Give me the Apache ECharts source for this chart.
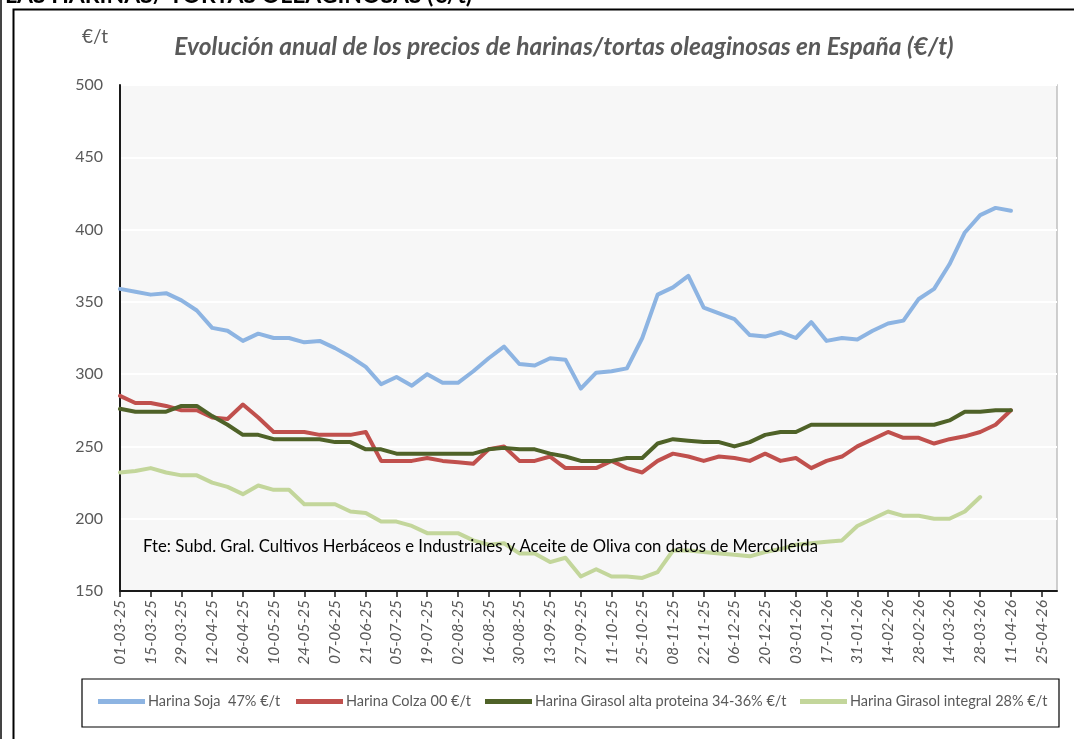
<!DOCTYPE html>
<html><head><meta charset="utf-8">
<script src="https://cdn.jsdelivr.net/npm/echarts@6/dist/echarts.min.js"></script>
<style>html,body{margin:0;padding:0;background:#fff}#c{width:1074px;height:739px}</style>
</head><body><div id="c"></div>
<script>
const categories = ["01-03-25","08-03-25","15-03-25","22-03-25","29-03-25","05-04-25","12-04-25","19-04-25","26-04-25","03-05-25","10-05-25","17-05-25","24-05-25","31-05-25","07-06-25","14-06-25","21-06-25","28-06-25","05-07-25","12-07-25","19-07-25","26-07-25","02-08-25","09-08-25","16-08-25","23-08-25","30-08-25","06-09-25","13-09-25","20-09-25","27-09-25","04-10-25","11-10-25","18-10-25","25-10-25","01-11-25","08-11-25","15-11-25","22-11-25","29-11-25","06-12-25","13-12-25","20-12-25","27-12-25","03-01-26","10-01-26","17-01-26","24-01-26","31-01-26","07-02-26","14-02-26","21-02-26","28-02-26","07-03-26","14-03-26","21-03-26","28-03-26","04-04-26","11-04-26","18-04-26","25-04-26","02-05-26"];
const seriesNames = ["Harina Soja  47% €/t","Harina Colza 00 €/t","Harina Girasol alta proteina 34-36% €/t","Harina Girasol integral 28% €/t"];
const soja = [359,357,355,356,351,344,332,330,323,328,325,325,322,323,318,312,305,293,298,292,300,294,294,302,311,319,307,306,311,310,290,301,302,304,325,355,360,368,346,342,338,327,326,329,325,336,323,325,324,330,335,337,352,359,376,398,410,415,413];
const colza = [285,280,280,278,275,275,270,269,279,270,260,260,260,258,258,258,260,240,240,240,242,240,239,238,248,250,240,240,243,235,235,235,240,235,232,240,245,243,240,243,242,240,245,240,242,235,240,243,250,255,260,256,256,252,255,257,260,265,275];
const girasolAltaProteina = [276,274,274,274,278,278,271,265,258,258,255,255,255,255,253,253,248,248,245,245,245,245,245,245,248,249,248,248,245,243,240,240,240,242,242,252,255,254,253,253,250,253,258,260,260,265,265,265,265,265,265,265,265,265,268,274,274,275,275];
const girasolIntegral = [232,233,235,232,230,230,225,222,217,223,220,220,210,210,210,205,204,198,198,195,190,190,190,185,182,183,176,176,170,173,160,165,160,160,159,163,178,178,177,176,175,174,177,179,182,183,184,185,195,200,205,202,202,200,200,205,215];
const titleText = "Evolución anual de los precios de harinas/tortas oleaginosas en España (€/t)";
const headerText = "LAS HARINAS/ TORTAS OLEAGINOSAS (€/t)";
const sourceText = "Fte: Subd. Gral. Cultivos Herbáceos e Industriales y Aceite de Oliva con datos de Mercolleida";
const unitText = "€/t";

const FONT = 'Lato, "Open Sans", sans-serif';
const colors = ['#8db4e2','#c0504d','#4f6228','#c3d69b'];
const values = [soja, colza, girasolAltaProteina, girasolIntegral];
const legendLeft = [98, 296, 485, 800];

const chart = echarts.init(document.getElementById('c'));
chart.setOption({
  animation: false,
  grid: {left:120, right:17, top:85, bottom:148, show:true, backgroundColor:'#f7f7f7', borderColor:'#c0c0c0', borderWidth:1.5},
  xAxis: {
    type:'category', data:categories, boundaryGap:false,
    axisLine:{lineStyle:{color:'#1a1a1a', width:2}},
    axisTick:{show:true, interval:1, length:6, lineStyle:{color:'#1a1a1a', width:1.5}},
    axisLabel:{interval:1, rotate:90, fontStyle:'italic', color:'#595959', fontSize:15.5, fontFamily:FONT, margin:9},
    splitLine:{show:false}
  },
  yAxis: {
    type:'value', min:150, max:500, interval:50,
    axisLine:{show:true, lineStyle:{color:'#1a1a1a', width:2}},
    axisTick:{show:false},
    axisLabel:{color:'#595959', fontSize:16, fontFamily:FONT, margin:17},
    splitLine:{lineStyle:{color:'#ffffff', width:2}}
  },
  legend: seriesNames.map((n,i)=>({
    data:[n], left:legendLeft[i], top:694, icon:'rect', itemWidth:47, itemHeight:5, itemGap:0, padding:0, selectedMode:false,
    textStyle:{color:'#595959', fontSize:14.5, fontFamily:FONT, padding:[0,0,0,-2]}
  })),
  series: seriesNames.map((n,i)=>({
    name:n, type:'line', data:values[i], showSymbol:false, symbol:'none', color:colors[i],
    lineStyle:{width:4, color:colors[i], cap:'round', join:'round'}
  })),
  graphic: [
    {type:'rect', shape:{x:82, y:679, width:977, height:48}, style:{fill:'none', stroke:'#000', lineWidth:1.2}},
    {type:'polyline', shape:{points:[[13.5,739],[13.5,9.5],[1074,9.5]]}, style:{fill:'none', stroke:'#000', lineWidth:2}},
    {type:'line', shape:{x1:1, y1:0, x2:1, y2:739}, style:{stroke:'#444', lineWidth:2}},
    {type:'text', x:472, y:7, style:{text:headerText, align:'right', verticalAlign:'bottom', font:'bold 23px ' + FONT, fill:'#000'}},
    {type:'text', x:564, y:47, style:{text:titleText, align:'center', verticalAlign:'middle', font:'italic bold 24.5px ' + FONT, fill:'#595959'}},
    {type:'text', x:95, y:37, style:{text:unitText, align:'center', verticalAlign:'middle', font:'19px ' + FONT, fill:'#595959'}},
    {type:'text', x:143, y:547, z:100, style:{text:sourceText, align:'left', verticalAlign:'middle', font:'16.7px ' + FONT, fill:'#000'}}
  ]
});
</script></body></html>
